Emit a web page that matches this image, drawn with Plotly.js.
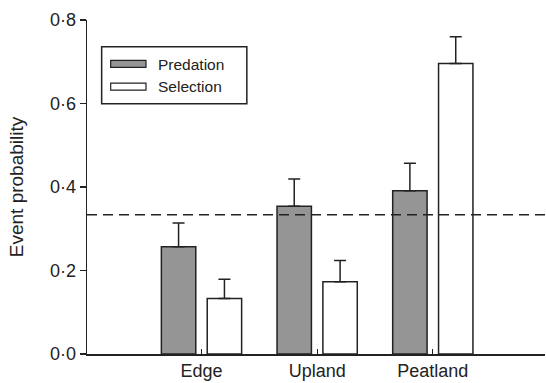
<!DOCTYPE html>
<html>
<head>
<meta charset="utf-8">
<script src="https://cdn.plot.ly/plotly-3.0.1.min.js"></script>
<style>html,body{margin:0;padding:0;background:#fff;}</style>
</head>
<body>
<div id="chart" style="width:546px;height:383px;"></div>
<script>
const categories = ["Edge", "Upland", "Peatland"];
const predation = [0.257, 0.354, 0.391];
const predationErr = [0.057, 0.065, 0.066];
const selection = [0.133, 0.173, 0.696];
const selectionErr = [0.046, 0.051, 0.064];
const seriesNames = ["Predation", "Selection"];
const yTickVals = [0, 0.2, 0.4, 0.6, 0.8];
const yTickText = ["0·0", "0·2", "0·4", "0·6", "0·8"];
const referenceLevel = 1 / 3;

const ink = "#222";
const font = "Liberation Sans, Arial, Helvetica, sans-serif";

const traces = [
  {
    type: "bar", name: seriesNames[0], x: categories, y: predation,
    marker: {color: "#959595", line: {color: ink, width: 1.5}},
    error_y: {type: "data", array: predationErr, arrayminus: predation.map(() => 0),
              symmetric: false, color: ink, thickness: 1.5, width: 6},
    showlegend: false
  },
  {
    type: "bar", name: seriesNames[1], x: categories, y: selection,
    marker: {color: "#ffffff", line: {color: ink, width: 1.5}},
    error_y: {type: "data", array: selectionErr, arrayminus: selection.map(() => 0),
              symmetric: false, color: ink, thickness: 1.5, width: 6},
    showlegend: false
  }
];

const layout = {
  width: 546, height: 383,
  margin: {l: 87, r: 1, t: 20, b: 29, pad: 0},
  paper_bgcolor: "#fff", plot_bgcolor: "#fff",
  font: {family: font, size: 18, color: ink},
  barmode: "group", bargap: 0.207, bargroupgap: 0.25,
  xaxis: {
    type: "category", range: [-0.99, 2.97],
    showline: true, linecolor: ink, linewidth: 1.5,
    ticks: "inside", ticklen: 5, tickcolor: ink, tickwidth: 1,
    showgrid: false, zeroline: false,
    tickfont: {family: font, size: 18, color: ink}
  },
  yaxis: {
    range: [0, 0.8], tickvals: yTickVals, ticktext: yTickText,
    showline: true, linecolor: ink, linewidth: 1.5,
    ticks: "outside", ticklen: 6, tickcolor: ink, tickwidth: 1.5,
    showgrid: false, zeroline: false,
    tickfont: {family: font, size: 18, color: ink},
    title: {text: "Event probability", font: {family: font, size: 19, color: ink}, standoff: 21}
  },
  shapes: [
    {type: "line", xref: "paper", yref: "y", x0: 0, x1: 1, y0: referenceLevel, y1: referenceLevel,
     line: {color: ink, width: 1.5, dash: "10px,6px"}, layer: "above"},
    {type: "rect", xref: "paper", yref: "paper", x0: 0.032, x1: 0.349, y0: 0.749, y1: 0.920,
     line: {color: ink, width: 1.5}, fillcolor: "#fff"},
    {type: "rect", xref: "paper", yref: "paper", x0: 0.0517, x1: 0.1288, y0: 0.858, y1: 0.879,
     line: {color: ink, width: 1.2}, fillcolor: "#959595"},
    {type: "rect", xref: "paper", yref: "paper", x0: 0.0517, x1: 0.1288, y0: 0.790, y1: 0.811,
     line: {color: ink, width: 1.2}, fillcolor: "#ffffff"}
  ],
  annotations: [
    {xref: "paper", yref: "paper", x: 0.150, y: 0.868, xanchor: "left", yanchor: "middle",
     text: seriesNames[0], showarrow: false, font: {family: font, size: 15.5, color: ink}},
    {xref: "paper", yref: "paper", x: 0.150, y: 0.800, xanchor: "left", yanchor: "middle",
     text: seriesNames[1], showarrow: false, font: {family: font, size: 15.5, color: ink}}
  ]
};

Plotly.newPlot("chart", traces, layout, {displayModeBar: false, staticPlot: true});
</script>
</body>
</html>
